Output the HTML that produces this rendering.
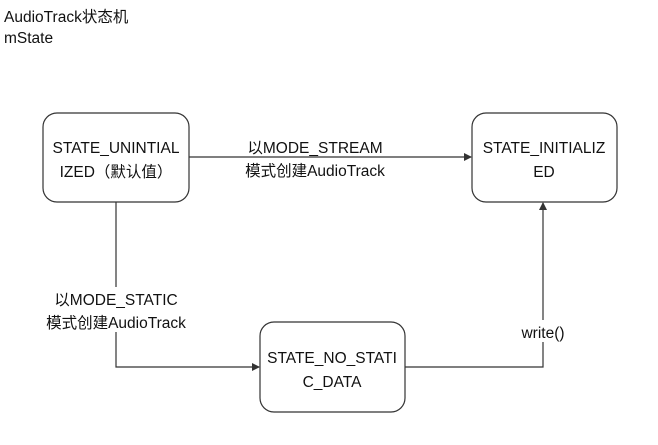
<!DOCTYPE html>
<html><head><meta charset="utf-8"><style>
body{margin:0;background:#fff;}
svg text{font-family:"Liberation Sans","Noto Sans CJK SC",sans-serif;font-size:15.5px;fill:#111;}
</style></head><body>
<svg width="658" height="440" xmlns="http://www.w3.org/2000/svg">
<defs><marker id="a" markerWidth="8" markerHeight="8" refX="7" refY="4" orient="auto" markerUnits="userSpaceOnUse"><path d="M0,0 L8,4 L0,8 z" fill="#333"/></marker></defs>
<text x="4" y="22">AudioTrack状态机</text>
<text x="4" y="43">mState</text>
<g fill="#fff" stroke="#333" stroke-width="1.2">
<rect x="43" y="113" width="146" height="89" rx="14"/>
<rect x="472" y="113" width="145" height="89" rx="14"/>
<rect x="260" y="322" width="145" height="90" rx="14"/>
</g>
<g stroke="#333" stroke-width="1.2" fill="none">
<path d="M189 157 H471" marker-end="url(#a)"/>
<path d="M116 202 V367 H259" marker-end="url(#a)"/>
<path d="M405 367 H543 V203" marker-end="url(#a)"/>
</g>
<rect x="238" y="159" width="152" height="22" fill="#fff"/>
<rect x="40" y="287" width="152" height="45" fill="#fff"/>
<rect x="518" y="320" width="50" height="22" fill="#fff"/>
<g text-anchor="middle">
<text x="116" y="153">STATE_UNINTIAL</text>
<text x="116" y="177">IZED（默认值）</text>
<text x="544" y="153">STATE_INITIALIZ</text>
<text x="544" y="177">ED</text>
<text x="332" y="363">STATE_NO_STATI</text>
<text x="332" y="387">C_DATA</text>
<text x="315" y="153">以MODE_STREAM</text>
<text x="315" y="176">模式创建AudioTrack</text>
<text x="116" y="305">以MODE_STATIC</text>
<text x="116" y="328">模式创建AudioTrack</text>
<text x="543" y="338">write()</text>
</g>
</svg>
</body></html>
